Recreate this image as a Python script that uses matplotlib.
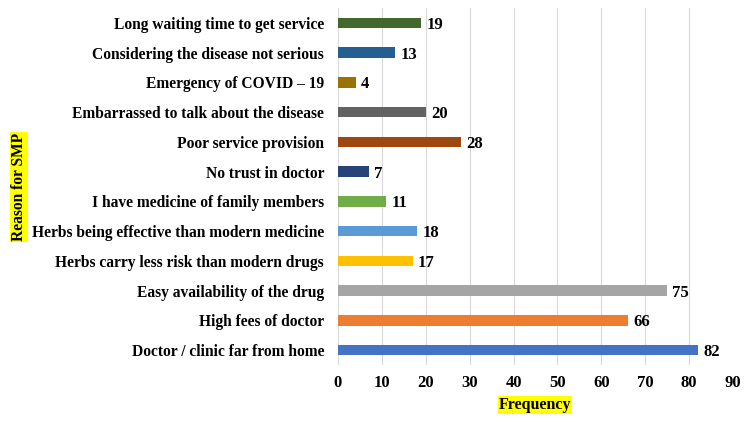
import matplotlib
matplotlib.use("Agg")
import matplotlib.pyplot as plt

categories = [
    "Doctor / clinic far from home",
    "High fees of doctor",
    "Easy availability of the drug",
    "Herbs carry less risk than modern drugs",
    "Herbs being effective than modern medicine",
    "I have medicine of family members",
    "No trust in doctor",
    "Poor service provision",
    "Embarrassed to talk about the disease",
    "Emergency of COVID \u2013 19",
    "Considering the disease not serious",
    "Long waiting time to get service",
]
values = [82, 66, 75, 17, 18, 11, 7, 28, 20, 4, 13, 19]
colors = ["#4472C4", "#ED7D31", "#A5A5A5", "#FFC000", "#5B9BD5", "#70AD47",
          "#264478", "#9E480E", "#636363", "#997300", "#255E91", "#43682B"]
xticks = [0, 10, 20, 30, 40, 50, 60, 70, 80, 90]

plt.rcParams['font.family'] = ['Liberation Serif', 'DejaVu Serif']
plt.rcParams['font.weight'] = 'bold'

fig = plt.figure(figsize=(7.5, 4.22), dpi=100)
ax = fig.add_axes([338/750, 1 - 365/422, (733-338)/750, (365-8)/422])

y = list(range(len(categories)))
ax.barh(y, values, height=0.36, color=colors, zorder=3)
for yi, v in zip(y, values):
    ax.text(v + 1.2, yi, str(v), va='center_baseline', ha='left', fontsize=12, fontweight='bold')

ax.set_xlim(0, 90)
ax.set_ylim(-0.5, len(categories) - 0.5)
ax.set_xticks(xticks)
ax.set_yticks(y)
ax.set_yticklabels(categories, fontsize=11.2, fontweight='bold')
ax.tick_params(axis='x', labelsize=12, length=0, pad=7)
ax.tick_params(axis='y', length=0, pad=10)
for lab in ax.get_xticklabels():
    lab.set_fontweight('bold')
ax.grid(axis='x', color='#D9D9D9', linewidth=0.8, zorder=0)
for s in ax.spines.values():
    s.set_visible(False)

fig.text(535/750, 1 - 405/422, "Frequency", ha='center', va='center', fontsize=11.5,
         fontweight='bold', bbox=dict(facecolor='yellow', edgecolor='none', pad=0.5))
fig.text(19/750, 1 - 187/422, "Reason for SMP", ha='center', va='center', rotation=90,
         fontsize=11.2, fontweight='bold', bbox=dict(facecolor='yellow', edgecolor='none', pad=0.5))

fig.savefig("out.png", dpi=100)
